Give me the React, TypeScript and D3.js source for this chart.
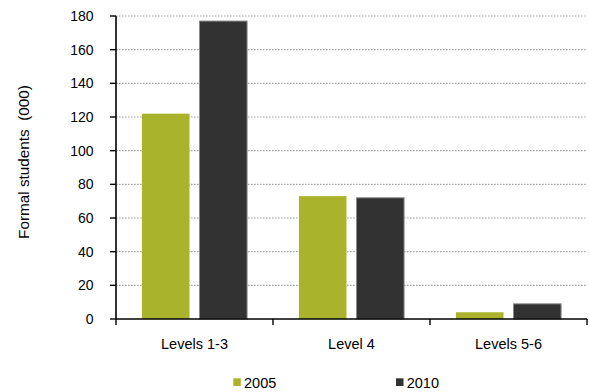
import React from "react";
import * as d3 from "d3";

// Formal students (thousands) by qualification level
const categories = ["Levels 1-3", "Level 4", "Levels 5-6"];
const seriesNames = ["2005", "2010"];
const values2005 = [122, 73, 4];
const values2010 = [177, 72, 9];
const yTicks = [0, 20, 40, 60, 80, 100, 120, 140, 160, 180];

const WIDTH = 589;
const HEIGHT = 392;
const left = 116;
const right = 587;
const top = 16;
const bottom = 319;

const colors: Record<string, string> = { "2005": "#a9b42c", "2010": "#323232" };
const strokes: Record<string, string> = { "2005": "none", "2010": "#8a8a8a" };
const font = "'Liberation Sans', Arial, sans-serif";

export default function App() {
  const x0 = d3.scaleBand<string>().domain(categories).range([left, right]).padding(0);
  const x1 = d3
    .scaleBand<string>()
    .domain(seriesNames)
    .range([0, x0.bandwidth()])
    .paddingInner(0.1736)
    .paddingOuter(0.45);
  const y = d3.scaleLinear().domain([0, 180]).range([bottom, top]);

  const data: Record<string, number[]> = { "2005": values2005, "2010": values2010 };
  const boundaries = [...categories.map((c) => x0(c) as number), right];

  return (
    <svg
      width={WIDTH}
      height={HEIGHT}
      style={{ position: "absolute", left: 0, top: 0, background: "#fff" }}
      fontFamily={font}
    >
      {/* gridlines */}
      {yTicks
        .filter((t) => t > 0)
        .map((t) => (
          <line
            key={"g" + t}
            x1={left}
            x2={right}
            y1={y(t)}
            y2={y(t)}
            stroke="#a6a6a6"
            strokeWidth={1.2}
            strokeDasharray="1.6 1.4"
          />
        ))}

      {/* bars */}
      {categories.map((c, i) =>
        seriesNames.map((s) => {
          const v = data[s][i];
          const bx = (x0(c) as number) + (x1(s) as number);
          return (
            <rect
              key={c + s}
              x={bx}
              y={y(v)}
              width={x1.bandwidth()}
              height={bottom - y(v)}
              fill={colors[s]}
              stroke={strokes[s]}
              strokeWidth={1}
            />
          );
        })
      )}

      {/* y axis */}
      <line x1={left} x2={left} y1={top} y2={bottom} stroke="#000" strokeWidth={1.6} />
      {yTicks.map((t) => (
        <g key={"t" + t}>
          <line x1={left - 6} x2={left} y1={y(t)} y2={y(t)} stroke="#000" strokeWidth={1.4} />
          <text
            x={93.5}
            y={y(t)}
            dy="0.36em"
            textAnchor="end"
            fontSize={14}
            fill="#000"
          >
            {t}
          </text>
        </g>
      ))}

      {/* x axis */}
      <line x1={left} x2={right} y1={bottom} y2={bottom} stroke="#000" strokeWidth={1.6} />
      {boundaries.map((bx, i) => (
        <line key={"xt" + i} x1={bx} x2={bx} y1={bottom} y2={bottom + 6} stroke="#000" strokeWidth={1.4} />
      ))}
      {categories.map((c) => (
        <text
          key={"c" + c}
          x={(x0(c) as number) + x0.bandwidth() / 2}
          y={349}
          textAnchor="middle"
          fontSize={14.5}
          fill="#000"
        >
          {c}
        </text>
      ))}

      {/* y axis title */}
      <text
        transform="translate(29,162) rotate(-90)"
        textAnchor="middle"
        fontSize={15.3}
        fill="#000"
        style={{ whiteSpace: "pre" }}
      >
        {"Formal students  (000)"}
      </text>

      {/* legend */}
      {seriesNames.map((s, i) => {
        const lx = i === 0 ? 233.3 : 396;
        return (
          <g key={"l" + s}>
            <rect x={lx} y={378.3} width={7.5} height={7.7} fill={colors[s]} />
            <text x={lx + 10.7} y={388.3} fontSize={14.5} fill="#000">
              {s}
            </text>
          </g>
        );
      })}
    </svg>
  );
}
